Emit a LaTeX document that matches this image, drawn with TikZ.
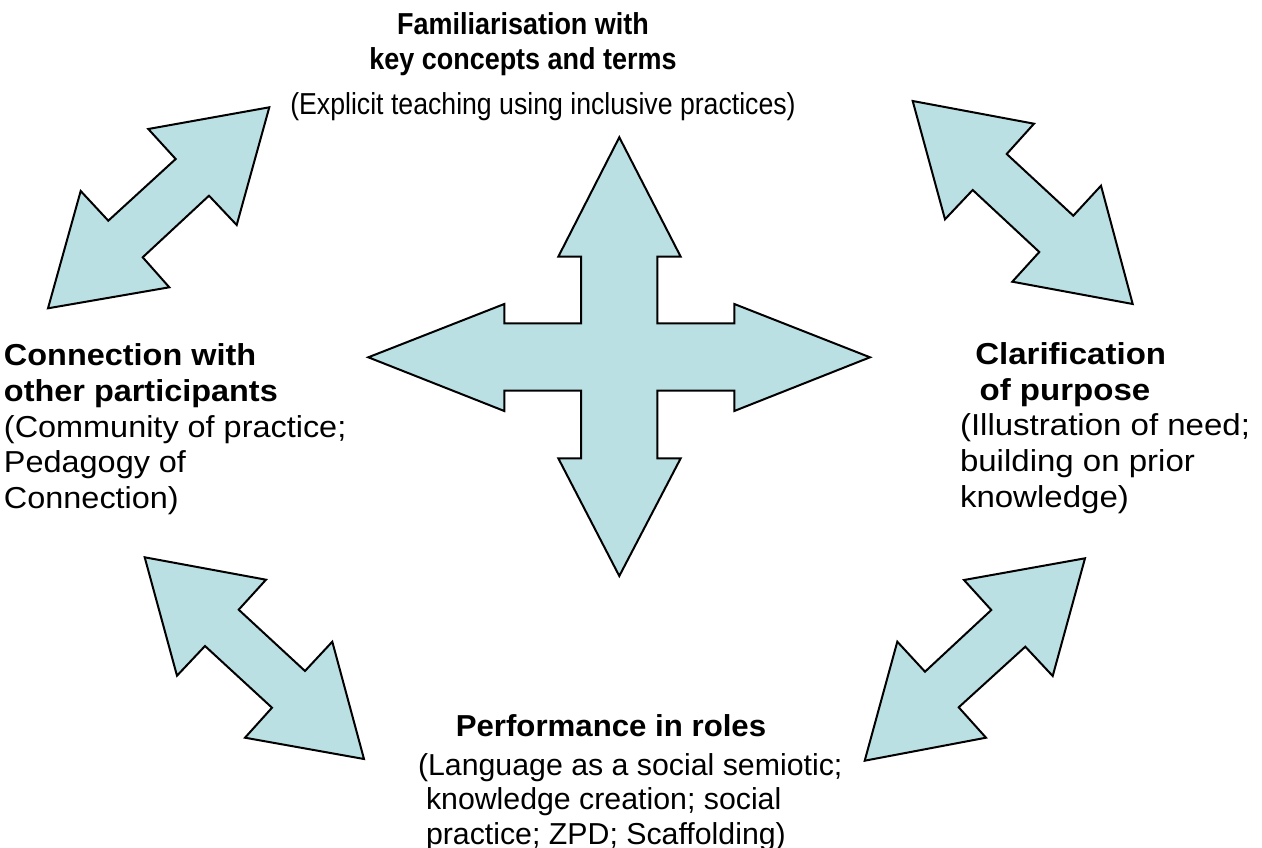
\documentclass[tikz,border=0pt]{standalone}
\usepackage{fontspec}
\setmainfont{Liberation Sans}
\definecolor{arrowfill}{RGB}{187,224,227}
\tikzset{
  arrowshape/.style={fill=arrowfill, draw=black, line width=2pt, line join=miter},
  txt/.style={inner sep=0pt, outer sep=0pt, font=\fontsize{30.3}{35.7}\selectfont},
}
\begin{document}
\begin{tikzpicture}[x=1pt,y=-1pt]
\useasboundingbox (0,0) rectangle (1262,848);

% central four-way arrow
\draw[arrowshape] (619.3,137.3) -- (680.7,256.7) -- (657.3,256.7) -- (657.3,323.3)
  -- (734.3,323.3) -- (734.3,304) -- (870,357.3) -- (734.3,411) -- (734.3,390.7)
  -- (657.3,390.7) -- (657.3,458.3) -- (680.7,458.3) -- (619.3,576) -- (558.3,458.3)
  -- (581,458.3) -- (581,390.7) -- (504.3,390.7) -- (504.3,411) -- (368.3,357.3)
  -- (504.3,304) -- (504.3,323.3) -- (581,323.3) -- (581,256.7) -- (558.3,256.7) -- cycle;

% upper-left double arrow
\draw[arrowshape] (269.3,107.3) -- (148.3,129) -- (175.7,159) -- (108.3,220.7)
  -- (80.7,191) -- (48,308.3) -- (169.3,287.3) -- (142.7,257.3) -- (209,195.7)
  -- (236.7,225) -- cycle;

% upper-right double arrow
\draw[arrowshape] (912.7,101) -- (1034,123.7) -- (1006.7,154) -- (1073.3,215.7)
  -- (1101,185.7) -- (1132.7,304) -- (1012.3,281.7) -- (1039.3,252) -- (972.7,190)
  -- (945,219.3) -- cycle;

% lower-left double arrow
\draw[arrowshape] (144.7,557.3) -- (266,579.7) -- (238.7,609.7) -- (305,671)
  -- (332.3,641.7) -- (364,759) -- (245,737.7) -- (272,707.7) -- (205,646)
  -- (177,675.7) -- cycle;

% lower-right double arrow
\draw[arrowshape] (1085,558.3) -- (964,580) -- (991.3,610) -- (925,671.7)
  -- (897.3,641.7) -- (864.7,760.7) -- (986,737.7) -- (958.7,707.3) -- (1025.3,646.7)
  -- (1052.7,676) -- cycle;

% top text
\node[txt, anchor=base] (toptitle) at (523,34.3)
  {\scalebox{0.89}[1]{\bfseries\begin{tabular}[t]{@{}c@{}}Familiarisation with\\ key concepts and terms\end{tabular}}};
\node[txt, anchor=base] (topdesc) at (543,115)
  {\scalebox{0.88}[1]{(Explicit teaching using inclusive practices)}};

% left text
\node[txt, anchor=base west] (lefttext) at (4,365.7)
  {\scalebox{1.07}[1]{\begin{tabular}[t]{@{}l@{}}\textbf{Connection with}\\ \textbf{other participants}\\ (Community of practice;\\ Pedagogy of\\ Connection)\end{tabular}}};

% right text
\node[txt, anchor=base west] (righttext) at (960,364.3)
  {\scalebox{1.09}[1]{\begin{tabular}[t]{@{}l@{}}\hspace{14pt}\textbf{Clarification}\\ \hspace{18pt}\textbf{of purpose}\\ (Illustration of need;\\ building on prior\\ knowledge)\end{tabular}}};

% bottom text
\node[txt, anchor=base] (bottitle) at (611,736.7)
  {\scalebox{1.03}[1]{\bfseries Performance in roles}};
\node[txt, anchor=base west, font=\fontsize{30.3}{34.5}\selectfont] (botdesc) at (418,775)
  {\begin{tabular}[t]{@{}l@{}}(Language as a social semiotic;\\ \hspace{8pt}knowledge creation; social\\ \hspace{8pt}practice; ZPD; Scaffolding)\end{tabular}};
\end{tikzpicture}
\end{document}
